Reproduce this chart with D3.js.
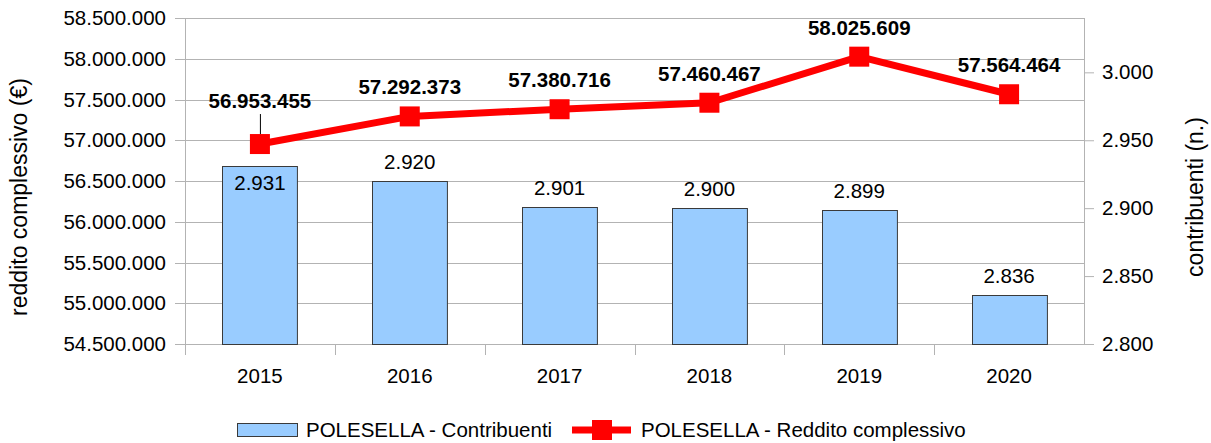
<!DOCTYPE html>
<html>
<head>
<meta charset="utf-8">
<script src="https://cdn.jsdelivr.net/npm/d3@7"></script>
<style>
  body { margin: 0; background: #fff; }
  text { font-family: "Liberation Sans", Arial, sans-serif; fill: #000; }
</style>
</head>
<body>
<div id="chart"></div>
<script>
// data
const years = ["2015", "2016", "2017", "2018", "2019", "2020"];
const contribuenti = [2931, 2920, 2901, 2900, 2899, 2836];
const reddito = [56953455, 57292373, 57380716, 57460467, 58025609, 57564464];
const leftTicks = [54500000, 55000000, 55500000, 56000000, 56500000, 57000000, 57500000, 58000000, 58500000];
const rightTicks = [2800, 2850, 2900, 2950, 3000];

const width = 1211, height = 443;
const margin = { top: 18, right: 127, bottom: 99, left: 185 };
const innerW = width - margin.left - margin.right;
const innerH = height - margin.top - margin.bottom;
const fs = "20.5px";

// italian thousands separator
const fmt = d3.formatLocale({ decimal: ",", thousands: ".", grouping: [3], currency: ["€", ""] }).format(",d");

const svg = d3.select("#chart").append("svg")
  .attr("width", width)
  .attr("height", height);

const g = svg.append("g").attr("transform", `translate(${margin.left},${margin.top})`);

const x = d3.scaleBand().domain(years).range([0, innerW]).paddingInner(0.5).paddingOuter(0.25);
const xTick = d3.scaleBand().domain(years).range([0, innerW]);
const yL = d3.scaleLinear().domain([54500000, 58500000]).range([innerH, 0]);
const yR = d3.scaleLinear().domain([2800, 3040]).range([innerH, 0]);

// gridlines
g.append("g").selectAll("line")
  .data(leftTicks)
  .enter().append("line")
  .attr("x1", -10).attr("x2", innerW)
  .attr("y1", d => Math.round(yL(d)) + 0.5).attr("y2", d => Math.round(yL(d)) + 0.5)
  .attr("stroke", "#b3b3b3").attr("stroke-width", 1);

// left axis
const axL = g.append("g")
  .call(d3.axisLeft(yL).tickValues(leftTicks).tickFormat(fmt).tickSize(0).tickPadding(19));
axL.select(".domain").remove();
axL.selectAll("text").style("font-size", fs).attr("fill", "#000");
g.append("line").attr("x1", 0.5).attr("x2", 0.5).attr("y1", 0).attr("y2", innerH + 11)
  .attr("stroke", "#b3b3b3");

// right axis
const axR = g.append("g").attr("transform", `translate(${innerW},0)`)
  .call(d3.axisRight(yR).tickValues(rightTicks).tickFormat(fmt).tickSize(10).tickPadding(8));
axR.select(".domain").attr("stroke", "#b3b3b3").attr("d", `M0.5,0V${innerH}`);
axR.selectAll(".tick line").attr("stroke", "#b3b3b3");
axR.selectAll("text").style("font-size", fs).attr("fill", "#000");

// x axis
const axX = g.append("g").attr("transform", `translate(0,${innerH})`);
axX.selectAll("line.tk")
  .data(years.slice(1))
  .enter().append("line")
  .attr("x1", d => Math.round(xTick(d)) + 0.5).attr("x2", d => Math.round(xTick(d)) + 0.5)
  .attr("y1", 0).attr("y2", 11)
  .attr("stroke", "#b3b3b3");
axX.selectAll("text")
  .data(years)
  .enter().append("text")
  .attr("x", d => x(d) + x.bandwidth() / 2)
  .attr("y", 39)
  .attr("text-anchor", "middle")
  .style("font-size", fs)
  .text(d => d);

// bars
g.append("g").selectAll("rect")
  .data(contribuenti)
  .enter().append("rect")
  .attr("x", (d, i) => Math.round(x(years[i])) + 0.5)
  .attr("y", d => Math.round(yR(d)) + 0.5)
  .attr("width", x.bandwidth())
  .attr("height", d => innerH - Math.round(yR(d)))
  .attr("fill", "#99ccff")
  .attr("stroke", "#3a3a3a").attr("stroke-width", 1);

// bar labels (first one sits inside the bar, under the marker)
g.append("g").selectAll("text")
  .data(contribuenti)
  .enter().append("text")
  .attr("x", (d, i) => x(years[i]) + x.bandwidth() / 2)
  .attr("y", (d, i) => i === 0 ? yR(d) + 24 : yR(d) - 12)
  .attr("text-anchor", "middle")
  .style("font-size", fs)
  .text(d => fmt(d));

// line
const cx = i => x(years[i]) + x.bandwidth() / 2;
const line = d3.line().x((d, i) => cx(i)).y(d => yL(d));
g.append("path")
  .datum(reddito)
  .attr("d", line)
  .attr("fill", "none")
  .attr("stroke", "#ff0000")
  .attr("stroke-width", 7)
  .attr("stroke-linejoin", "round");

g.append("g").selectAll("rect")
  .data(reddito)
  .enter().append("rect")
  .attr("x", (d, i) => cx(i) - 10)
  .attr("y", d => yL(d) - 10)
  .attr("width", 20).attr("height", 20)
  .attr("fill", "#ff0000");

// leader line for the first label
g.append("line")
  .attr("x1", cx(0) + 0.5).attr("x2", cx(0) + 0.5)
  .attr("y1", yL(reddito[0]) - 30).attr("y2", yL(reddito[0]) - 10)
  .attr("stroke", "#000").attr("stroke-width", 1);

g.append("g").selectAll("text")
  .data(reddito)
  .enter().append("text")
  .attr("x", (d, i) => cx(i))
  .attr("y", (d, i) => i === 0 ? yL(d) - 36 : yL(d) - 22)
  .attr("text-anchor", "middle")
  .style("font-size", fs)
  .style("font-weight", "bold")
  .text(d => fmt(d));

// axis titles
svg.append("text")
  .attr("transform", "translate(27,197) rotate(-90)")
  .attr("text-anchor", "middle")
  .style("font-size", "23px")
  .text("reddito complessivo (€)");

svg.append("text")
  .attr("transform", "translate(1203,197) rotate(-90)")
  .attr("text-anchor", "middle")
  .style("font-size", "23px")
  .text("contribuenti (n.)");

// legend
const leg = svg.append("g").attr("transform", "translate(0,430)");
leg.append("rect").attr("x", 237.5).attr("y", -6.5).attr("width", 60).attr("height", 13)
  .attr("fill", "#99ccff").attr("stroke", "#3a3a3a");
leg.append("text").attr("x", 306).attr("y", 7).style("font-size", fs).text("POLESELLA - Contribuenti");
leg.append("line").attr("x1", 572).attr("x2", 631).attr("y1", 0).attr("y2", 0)
  .attr("stroke", "#ff0000").attr("stroke-width", 7);
leg.append("rect").attr("x", 592).attr("y", -10).attr("width", 20).attr("height", 20).attr("fill", "#ff0000");
leg.append("text").attr("x", 641).attr("y", 7).style("font-size", fs).text("POLESELLA - Reddito complessivo");
</script>
</body>
</html>
